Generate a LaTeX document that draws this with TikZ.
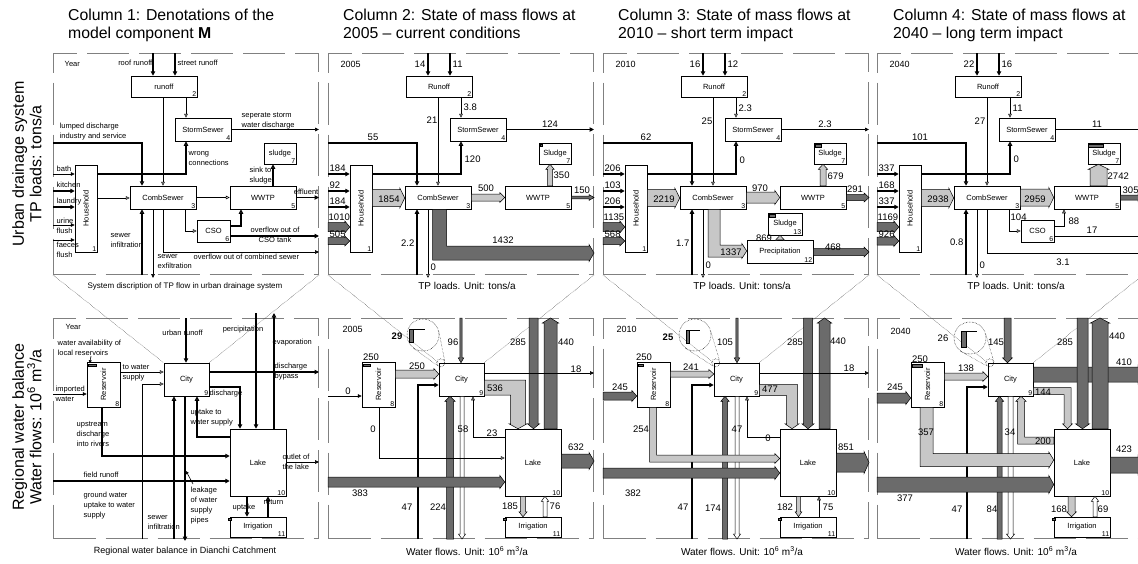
\documentclass[tikz,border=0pt]{standalone}
\usepackage{fontspec}
\setmainfont{Liberation Sans}
\usepackage{tikz}
\usetikzlibrary{arrows.meta}
\usetikzlibrary{calc}
\definecolor{lgr}{gray}{0.78}
\definecolor{dgr}{gray}{0.42}
\definecolor{frmc}{gray}{0.5}
\tikzset{
  bx/.style={draw, line width=0.5pt, fill=white, inner sep=0pt, font=\fontsize{7.5}{9}\selectfont},
  bn/.style={anchor=south east, inner sep=0.8pt, font=\fontsize{7}{8}\selectfont},
  rot/.style={rotate=90, inner sep=0pt, font=\fontsize{7.5}{9}\selectfont},
  frm/.style={draw=frmc, line width=1pt, dash pattern=on 42pt off 10pt, inner sep=0pt},
  fl/.style={line width=0.6pt, -{Triangle[length=4pt,width=3.6pt]}},
  flo/.style={line width=0.6pt, -{Triangle[open,length=4pt,width=3.6pt]}},
  fk/.style={line width=1.2pt, -{Triangle[length=4.5pt,width=4.4pt]}},
  fko/.style={line width=1.2pt, -{Triangle[open,length=4.5pt,width=4.4pt]}},
  bk/.style={draw=black, line width=0.5pt, line join=miter},
  an/.style={anchor=west, align=left, inner sep=0.5pt, font=\fontsize{7.5}{10}\selectfont},
  nm/.style={inner sep=0.5pt, font=\fontsize{9.5}{10}\selectfont},
  yr/.style={anchor=west, inner sep=0.5pt, font=\fontsize{9}{10}\selectfont},
  captxt/.style={inner sep=0pt, font=\fontsize{10}{12}\selectfont},
  ttl/.style={anchor=north west, align=left, inner sep=0pt, font=\fontsize{15.8}{18}\selectfont},
  rowl/.style={rotate=90, align=center, inner sep=0pt, font=\fontsize{16}{17.5}\selectfont},
  zl/.style={densely dotted, line width=0.4pt},
  magc/.style={draw, circle, densely dotted, line width=0.5pt, inner sep=0pt},
  stor/.style={fill=dgr, draw=black, line width=0.3pt}
}
\newcommand\compbox[7]{%
  \node[bx, minimum width=#4, minimum height=#5] (#1) at (#2,#3) {#6};
  \node[bn] at (#1.south east) {#7};}
\newcommand\hblk[4][lgr]{%
  \filldraw[bk, fill=#1] let \p1=(#2), \p2=(#3), \n1={sign(\x2-\x1)} in
  (\x1,{\y1+#4pt}) -- ({\x2-(\n1)*5pt},{\y1+#4pt}) -- ({\x2-(\n1)*5pt},{\y1+#4pt+1.6pt}) -- (\x2,\y1)
  -- ({\x2-(\n1)*5pt},{\y1-#4pt-1.6pt}) -- ({\x2-(\n1)*5pt},{\y1-#4pt}) -- (\x1,{\y1-#4pt}) -- cycle;}
\newcommand\vblk[4][lgr]{%
  \filldraw[bk, fill=#1] let \p1=(#2), \p2=(#3), \n1={sign(\y2-\y1)} in
  ({\x1-#4pt},\y1) -- ({\x1-#4pt},{\y2-(\n1)*5pt}) -- ({\x1-#4pt-1.6pt},{\y2-(\n1)*5pt}) -- (\x1,\y2)
  -- ({\x1+#4pt+1.6pt},{\y2-(\n1)*5pt}) -- ({\x1+#4pt},{\y2-(\n1)*5pt}) -- ({\x1+#4pt},\y1) -- cycle;}
\newcommand\vhblk[5][lgr]{%
  \filldraw[bk, fill=#1] let \p1=(#2), \p2=(#3), \p3=(#4), \n1={sign(\y2-\y1)}, \n2={sign(\x3-\x1)} in
  ({\x1-(\n2)*#5pt},\y1) -- ({\x1-(\n2)*#5pt},{\y2+(\n1)*#5pt}) -- ({\x3-(\n2)*5pt},{\y2+(\n1)*#5pt})
  -- ({\x3-(\n2)*5pt},{\y2+(\n1)*(#5pt+1.6pt)}) -- (\x3,\y2)
  -- ({\x3-(\n2)*5pt},{\y2-(\n1)*(#5pt+1.6pt)}) -- ({\x3-(\n2)*5pt},{\y2-(\n1)*#5pt})
  -- ({\x1+(\n2)*#5pt},{\y2-(\n1)*#5pt}) -- ({\x1+(\n2)*#5pt},\y1) -- cycle;}
\newcommand\hvblk[5][lgr]{%
  \filldraw[bk, fill=#1] let \p1=(#2), \p2=(#3), \p3=(#4), \n1={sign(\x2-\x1)}, \n2={sign(\y3-\y1)} in
  (\x1,{\y1-(\n2)*#5pt}) -- ({\x2+(\n1)*#5pt},{\y1-(\n2)*#5pt}) -- ({\x2+(\n1)*#5pt},{\y3-(\n2)*5pt})
  -- ({\x2+(\n1)*(#5pt+1.6pt)},{\y3-(\n2)*5pt}) -- (\x2,\y3)
  -- ({\x2-(\n1)*(#5pt+1.6pt)},{\y3-(\n2)*5pt}) -- ({\x2-(\n1)*#5pt},{\y3-(\n2)*5pt})
  -- ({\x2-(\n1)*#5pt},{\y1+(\n2)*#5pt}) -- (\x1,{\y1+(\n2)*#5pt}) -- cycle;}

\begin{document}
\begin{tikzpicture}[x=1pt,y=-1pt]
\useasboundingbox (0,0) rectangle (1138,563);

\node[ttl] (t1) at (68,8.5) {Column 1: Denotations of the\\model component \textbf{M}};
\node[ttl] (t2) at (343,8.5) {Column 2: State of mass flows at\\2005 -- current conditions};
\node[ttl] (t3) at (618,8.5) {Column 3: State of mass flows at\\2010 -- short term impact};
\node[ttl] (t4) at (893,8.5) {Column 4: State of mass flows at\\2040 -- long term impact};
\node[rowl] (r1) at (27,164) {Urban drainage system\\TP loads: tons/a};
\node[rowl] (r2) at (27,427) {Regional water balance\\Water flows: 10\textsuperscript{6} m\textsuperscript{3}/a};

% column 1
\begin{scope}[xshift=53pt]
\node[frm, minimum width=265, minimum height=221, anchor=north west] (tp1) at (0,53) {};
\compbox{ro1}{111}{86.5}{66}{21}{runoff}{2}
\compbox{ss1}{150}{129.5}{56}{23}{StormSewer}{4}
\compbox{hh1}{33}{208.5}{22}{87}{}{1}
\node[rot] at (hh1) {Household};
\compbox{cs1}{110}{197.5}{66}{23}{CombSewer}{3}
\compbox{ww1}{210}{197.5}{66}{23}{WWTP}{5}
\compbox{sl1}{227}{153.5}{32}{21}{sludge}{7}
\compbox{cso1}{160.5}{231}{33}{22}{CSO}{6}
\draw[fk] (tp1.north -| 100,0) -- (ro1.north -| 100,0);
\draw[fk] (tp1.north -| 122,0) -- (ro1.north -| 122,0);
\draw[flo] (ro1.south -| 110,0) -- (cs1.north -| 110,0);
\draw[flo] (ro1.south -| 133,0) -- (ss1.north -| 133,0);
\draw[fl] (ss1.east) -- (tp1.east |- ss1.east);
\draw[fko] (tp1.west |- 0,143) -| (cs1.north -| 89,0);
\draw[fl] (tp1.west |- 0,174) -- (hh1.west |- 0,174);
\draw[fk] (tp1.west |- 0,191) -- (hh1.west |- 0,191);
\draw[fk] (tp1.west |- 0,207) -- (hh1.west |- 0,207);
\draw[fl] (tp1.west |- 0,225) -- (hh1.west |- 0,225);
\draw[fl] (tp1.west |- 0,240) -- (hh1.west |- 0,240);
\draw[fko] (hh1.east |- 0,174) -| (ss1.south -| 133,0);
\draw[flo] (hh1.east |- 0,198) -- (cs1.west |- 0,198);
\draw[flo] (cs1.east) -- (ww1.west);
\draw[fk] (ww1.east) -- (tp1.east |- ww1.east);
\draw[fko] (ww1.north -| 220,0) -- (sl1.south -| 220,0);
\draw[flo] (cs1.south -| 132,0) |- (cso1.west);
\draw[fko] (cso1.east |- 0,226) -| (ww1.south -| 188,0);
\draw[fk] (cso1.east |- 0,236) -- (tp1.east |- 0,236);
\draw[fl] (cs1.south -| 110,0) |- (tp1.east |- 0,252);
\draw[fko] (tp1.south -| 89,0) -- (cs1.south -| 89,0);
\draw[fl, shorten >=-3pt] (cs1.south -| 100,0) -- (tp1.south -| 100,0);
\node[an] at (11,64) {Year};
\node[an, anchor=east] at (100,63) {roof runoff};
\node[an] at (124,63) {street runoff};
\node[an] at (188,121) {seperate storm\\water discharge};
\node[an] at (6,132) {lumped discharge\\industry and service};
\node[an] at (135,158.5) {wrong\\connections};
\node[an] at (196,175.5) {sink to\\sludge};
\node[an, anchor=east] at (266,192) {effluent};
\node[an] at (3,169) {bath};
\node[an] at (3,185) {kitchen};
\node[an] at (3,202) {laundry};
\node[an] at (3,226) {urine\\flush};
\node[an] at (3,250) {faeces\\flush};
\node[an] at (57,240.5) {sewer\\infiltration};
\node[an] at (104,262) {sewer\\exfiltration};
\node[an] at (140,257) {overflow out of combined sewer};
\node[an, align=center, anchor=center] at (222,234.5) {overflow out of\\CSO tank};
\node[inner sep=0pt, font=\fontsize{8}{9}\selectfont] at (132,286) {System discription of TP flow in urban drainage system};

\node[frm, minimum width=265, minimum height=220, anchor=north west] (bt1) at (0,318) {};
\compbox{res1}{50.5}{384.5}{33}{45}{}{8}
\node[rot] at (res1) {Reservoir};
\compbox{cty1}{133.5}{379.5}{45}{33}{City}{9}
\compbox{lk1}{205}{462.5}{56}{67}{Lake}{10}
\compbox{irr1}{205}{527}{56}{20}{Irrigation}{11}
\fill[stor] ([shift={(1,2)}]res1.north west) rectangle +(8,2.5);
\fill[stor] ([shift={(-1.5,1)}]irr1.north west) rectangle +(2.5,2.5);
\draw[zl] (tp1.south west) -- (cty1.north west);
\draw[zl] (tp1.south east) -- (cty1.north east);
\draw[fl] (bt1.west |- 0,394) -- (res1.west |- 0,394);
\draw[flo] (res1.east |- 0,372) -- (cty1.west |- 0,372);
\draw[flo] (bt1.south -| 89,0) |- (cty1.west |- 0,384);
\draw[fk] (bt1.north -| 133,0) -- (cty1.north -| 133,0);
\draw[fk] (203,313) -- (lk1.north -| 203,0);
\draw[fko] (lk1.north -| 221,0) -- (221,313);
\draw[fk] (cty1.east |- 0,372) -- (bt1.east |- 0,372);
\draw[fk] (cty1.east |- 0,387) -| (lk1.north -| 187,0);
\draw[fko] (lk1.west |- 0,437) -| (cty1.south -| 144,0);
\draw[fko] (res1.south -| 49,0) |- (lk1.west |- 0,456);
\draw[fk] (bt1.west |- 0,481) -- (lk1.west |- 0,481);
\draw[fl] (lk1.east |- 0,462) -- (bt1.east |- 0,462);
\draw[fko] (bt1.south -| 121,0) -- (cty1.south -| 121,0);
\draw[fk, shorten >=-2pt] (cty1.south -| 132,0) -- (bt1.south -| 132,0);
\draw[fko] (lk1.south -| 194,0) -- (irr1.north -| 194,0);
\draw[fko] (irr1.north -| 215,0) -- (lk1.south -| 215,0);
\draw[fl, -{Triangle[length=3pt,width=3pt]}] (38,356) -- ([shift={(3,1.5)}]res1.north west);
\draw[fl, -{Triangle[length=3pt,width=3pt]}] (140,484) -- (133,471);
\node[an] at (12,327) {Year};
\node[an] at (4,348) {water availability of\\local reservoirs};
\node[an] at (2,393.5) {imported\\water};
\node[an] at (69,373) {to water\\supply};
\node[an, anchor=center] at (129.5,333) {urban runoff};
\node[an, anchor=center] at (190,330) {percipitation};
\node[an] at (219,343) {evaporation};
\node[an] at (221,371.5) {discharge\\bypass};
\node[an] at (156,394) {discharge};
\node[an] at (137,417.5) {uptake to\\water supply};
\node[an] at (23,434) {upstream\\discharge\\into rivers};
\node[an] at (30,475) {field runoff};
\node[an] at (229,461.5) {outlet of\\the lake};
\node[an] at (30,506) {ground water\\uptake to water\\supply};
\node[an] at (94,522.5) {sewer\\infiltration};
\node[an] at (137,506) {leakage\\of water\\supply\\pipes};
\node[an] at (179,508) {uptake};
\node[an] at (210,502) {return};
\node[inner sep=0pt, font=\fontsize{9}{10}\selectfont] at (132,551) {Regional water balance in Dianchi Catchment};
\end{scope}

% column 2
\begin{scope}[xshift=328pt]
\node[frm, minimum width=265, minimum height=221, anchor=north west] (tp2) at (0,53) {};
\compbox{ro2}{111}{86.5}{66}{21}{Runoff}{2}
\compbox{ss2}{150}{129.5}{56}{23}{StormSewer}{4}
\compbox{hh2}{33}{208.5}{22}{87}{}{1}
\node[rot] at (hh2) {Household};
\compbox{cs2}{110}{197.5}{66}{23}{CombSewer}{3}
\compbox{ww2}{210}{197.5}{66}{23}{WWTP}{5}
\compbox{sl2}{227}{153.5}{32}{21}{Sludge}{7}
\fill[stor] ([shift={(1,1)}]sl2.north west) rectangle +(2.5,2.5);
\draw[fk] (tp2.north -| 100,0) -- (ro2.north -| 100,0);
\draw[fk] (tp2.north -| 122,0) -- (ro2.north -| 122,0);
\draw[flo] (ro2.south -| 110,0) -- (cs2.north -| 110,0);
\draw[flo] (ro2.south -| 133,0) -- (ss2.north -| 133,0);
\draw[fk] (ss2.east) -- (tp2.east |- ss2.east);
\draw[fko] (tp2.west |- 0,143) -| (cs2.north -| 89,0);
\draw[fk] (tp2.west |- 0,174) -- (hh2.west |- 0,174);
\draw[fk] (tp2.west |- 0,191) -- (hh2.west |- 0,191);
\draw[fk] (tp2.west |- 0,207) -- (hh2.west |- 0,207);
\hblk[dgr]{tp2.west |- 0,227}{hh2.west |- 0,227}{4.5}
\hblk[dgr]{tp2.west |- 0,241}{hh2.west |- 0,241}{3.5}
\draw[fko] (hh2.east |- 0,174) -| (ss2.south -| 133,0);
\hblk{hh2.east |- 0,198}{cs2.west |- 0,198}{8.5}
\hblk{cs2.east}{ww2.west}{3.5}
\vblk{ww2.north -| 222,0}{sl2.south -| 222,0}{2.5}
\hblk[dgr]{ww2.east}{tp2.east |- ww2.east}{1.3}
\vhblk[dgr]{cs2.south -| 111.5,0}{0,253}{tp2.east}{7}
\draw[fk] (tp2.south -| 89,0) -- (cs2.south -| 89,0);
\draw[flo, shorten >=-3pt] (cs2.south -| 100,0) -- (tp2.south -| 100,0);
\node[yr] at (12,64) {2005};
\node[nm, anchor=east] at (98,64) {14};
\node[nm, anchor=west] at (124,64) {11};
\node[nm] at (104,120) {21};
\node[nm, anchor=west] at (135,107) {3.8};
\node[nm] at (222,124) {124};
\node[nm] at (45,137) {55};
\node[nm, anchor=west] at (136,159) {120};
\node[nm, anchor=west] at (1,168) {184};
\node[nm, anchor=west] at (1,185) {92};
\node[nm, anchor=west] at (1,201) {184};
\node[nm, anchor=west] at (0,217) {1010};
\node[nm, anchor=west] at (1,234) {505};
\node[nm] at (61,199) {1854};
\node[nm] at (158,188) {500};
\node[nm, anchor=west] at (225,175) {350};
\node[nm] at (254,190) {150};
\node[nm] at (175,240) {1432};
\node[nm, anchor=east] at (87,243) {2.2};
\node[nm, anchor=west] at (102,267) {0};
\node[captxt] at (139,286) {TP loads. Unit: tons/a};

\node[frm, minimum width=265, minimum height=220, anchor=north west] (bt2) at (0,318) {};
\compbox{res2}{50.5}{384.5}{33}{45}{}{8}
\node[rot] at (res2) {Reservoir};
\compbox{cty2}{133.5}{379.5}{45}{33}{City}{9}
\compbox{lk2}{205}{462.5}{56}{67}{Lake}{10}
\compbox{irr2}{205}{527}{56}{20}{Irrigation}{11}
\fill[stor] ([shift={(1,2)}]res2.north west) rectangle +(7,2.5);
\fill[stor] ([shift={(-1.5,1)}]irr2.north west) rectangle +(2.5,2.5);
\draw[zl] (tp2.south west) -- (cty2.north west);
\draw[zl] (tp2.south east) -- (cty2.north east);
\vblk[dgr]{bt2.north -| 133,0}{cty2.north -| 133,0}{1.2}
\vblk[dgr]{bt2.north -| 205.5,0}{lk2.north -| 205.5,0}{4.5}
\vblk[dgr]{lk2.north -| 222.5,0}{bt2.north -| 222.5,0}{6.5}
\draw[fl] (cty2.east |- 0,373) -- (bt2.east |- 0,373);
\hblk{res2.east |- 0,374}{cty2.west |- 0,374}{4}
\draw[fl] (bt2.west |- 0,396) -- (res2.west |- 0,396);
\draw[fk] (bt2.south -| 90,0) |- (cty2.west |- 0,385);
\vblk[dgr]{bt2.south -| 122,0}{cty2.south -| 122,0}{3.5}
\vblk[white]{cty2.south -| 134,0}{bt2.south -| 134,0}{2}
\hvblk{cty2.east |- 0,387.5}{190,0}{lk2.north}{7.5}
\draw[flo] (lk2.west |- 0,437) -| (cty2.south -| 145,0);
\draw[flo] (res2.south -| 51,0) |- (lk2.west |- 0,458);
\hblk[dgr]{bt2.west |- 0,482}{lk2.west |- 0,482}{5}
\hblk[dgr]{lk2.east |- 0,461}{bt2.east |- 0,461}{7}
\vblk{lk2.south -| 195,0}{irr2.north -| 195,0}{2.5}
\vblk[white]{irr2.north -| 217,0}{lk2.south -| 217,0}{2}
\node[magc, minimum size=32] (mag2) at (95,335) {};
\node[magc, minimum size=8] (spot2) at ([shift={(2,0)}]cty2.north west) {};
\draw[zl] (mag2.-126) -- (spot2.-126);
\draw[zl] (mag2.12) -- (spot2.12);
\fill[stor] (81,329) rectangle (85,342);
\draw[line width=0.4pt] (85,329) -- (97,329);
\node[nm, font=\bfseries\fontsize{9.5}{10}\selectfont] at (69,336) {29};
\node[yr] at (14,329) {2005};
\node[nm] at (125,342) {96};
\node[nm] at (190,342) {285};
\node[nm] at (238,342) {440};
\node[nm] at (248,369) {18};
\node[nm] at (43,357) {250};
\node[nm] at (89,366) {250};
\node[nm] at (20,391) {0};
\node[nm] at (167,388) {536};
\node[nm] at (45,429) {0};
\node[nm] at (135,429) {58};
\node[nm] at (164,433) {23};
\node[nm] at (248,447) {632};
\node[nm] at (32,493) {383};
\node[nm] at (79,507) {47};
\node[nm] at (110,507) {224};
\node[nm] at (182,506) {185};
\node[nm] at (227,506) {76};
\node[captxt] at (139,551) {Water flows. Unit: 10\textsuperscript{6} m\textsuperscript{3}/a};
\end{scope}

% column 3
\begin{scope}[xshift=603pt]
\node[frm, minimum width=265, minimum height=221, anchor=north west] (tp3) at (0,53) {};
\compbox{ro3}{111}{86.5}{66}{21}{Runoff}{2}
\compbox{ss3}{150}{129.5}{56}{23}{StormSewer}{4}
\compbox{hh3}{33}{208.5}{22}{87}{}{1}
\node[rot] at (hh3) {Household};
\compbox{cs3}{110}{197.5}{66}{23}{CombSewer}{3}
\compbox{ww3}{210}{197.5}{66}{23}{WWTP}{5}
\compbox{sl3}{227}{153.5}{32}{21}{Sludge}{7}
\compbox{pr3}{177}{251.5}{66}{23}{Precipitation}{12}
\compbox{sx3}{182}{224}{34}{22}{Sludge}{13}
\fill[stor] ([shift={(1,1)}]sl3.north west) rectangle +(6,3);
\fill[stor] ([shift={(1,1)}]sx3.north west) rectangle +(6,3);
\draw[fk] (tp3.north -| 100,0) -- (ro3.north -| 100,0);
\draw[fk] (tp3.north -| 122,0) -- (ro3.north -| 122,0);
\draw[flo] (ro3.south -| 110,0) -- (cs3.north -| 110,0);
\draw[flo] (ro3.south -| 133,0) -- (ss3.north -| 133,0);
\draw[fl] (ss3.east) -- (tp3.east |- ss3.east);
\draw[fko] (tp3.west |- 0,143) -| (cs3.north -| 89,0);
\draw[fk] (tp3.west |- 0,174) -- (hh3.west |- 0,174);
\draw[fk] (tp3.west |- 0,191) -- (hh3.west |- 0,191);
\draw[fk] (tp3.west |- 0,207) -- (hh3.west |- 0,207);
\hblk[dgr]{tp3.west |- 0,227}{hh3.west |- 0,227}{4.5}
\hblk[dgr]{tp3.west |- 0,241}{hh3.west |- 0,241}{3.5}
\draw[fko] (hh3.east |- 0,174) -| (ss3.south -| 133,0);
\hblk{hh3.east |- 0,198}{cs3.west |- 0,198}{8.5}
\hblk{cs3.east}{ww3.west}{5.5}
\vblk{ww3.north -| 220,0}{sl3.south -| 220,0}{3}
\hblk[dgr]{ww3.east}{tp3.east |- ww3.east}{3}
\vhblk{cs3.south -| 111,0}{0,251}{pr3.west}{6}
\vblk{pr3.north -| 177,0}{sx3.south -| 177,0}{3}
\hblk[dgr]{pr3.east |- 0,252}{tp3.east |- 0,252}{3.5}
\draw[fk] (tp3.south -| 89,0) -- (cs3.south -| 89,0);
\draw[flo, shorten >=-3pt] (cs3.south -| 100,0) -- (tp3.south -| 100,0);
\node[yr] at (12,64) {2010};
\node[nm, anchor=east] at (98,64) {16};
\node[nm, anchor=west] at (124,64) {12};
\node[nm] at (104,121) {25};
\node[nm, anchor=west] at (135,108) {2.3};
\node[nm] at (222,124) {2.3};
\node[nm] at (43,137) {62};
\node[nm, anchor=west] at (136,160) {0};
\node[nm, anchor=west] at (1,168) {206};
\node[nm, anchor=west] at (1,185) {103};
\node[nm, anchor=west] at (1,201) {206};
\node[nm, anchor=west] at (0,217) {1135};
\node[nm, anchor=west] at (1,234) {568};
\node[nm] at (61,199) {2219};
\node[nm] at (157,188) {970};
\node[nm, anchor=west] at (224,176) {679};
\node[nm] at (252,189) {291};
\node[nm] at (128,252) {1337};
\node[nm] at (161,238) {869};
\node[nm] at (230,247) {468};
\node[nm, anchor=east] at (87,243) {1.7};
\node[nm, anchor=west] at (102,265) {0};
\node[captxt] at (139,286) {TP loads. Unit: tons/a};

\node[frm, minimum width=265, minimum height=220, anchor=north west] (bt3) at (0,318) {};
\compbox{res3}{50.5}{384.5}{33}{45}{}{8}
\node[rot] at (res3) {Reservoir};
\compbox{cty3}{133.5}{379.5}{45}{33}{City}{9}
\compbox{lk3}{205}{462.5}{56}{67}{Lake}{10}
\compbox{irr3}{205}{527}{56}{20}{Irrigation}{11}
\fill[stor] ([shift={(1,2)}]res3.north west) rectangle +(5,2.5);
\fill[stor] ([shift={(-1.5,1)}]irr3.north west) rectangle +(2.5,2.5);
\draw[zl] (tp3.south west) -- (cty3.north west);
\draw[zl] (tp3.south east) -- (cty3.north east);
\vblk[dgr]{bt3.north -| 134,0}{cty3.north -| 134,0}{1.2}
\vblk[dgr]{bt3.north -| 205,0}{lk3.north -| 205,0}{4.5}
\vblk[dgr]{lk3.north -| 221.5,0}{bt3.north -| 221.5,0}{5.5}
\draw[fl] (cty3.east |- 0,373) -- (bt3.east |- 0,373);
\hblk{res3.east |- 0,374}{cty3.west |- 0,374}{3}
\hblk[dgr]{bt3.west |- 0,396}{res3.west |- 0,396}{4}
\draw[fk] (bt3.south -| 89,0) |- (cty3.west |- 0,385);
\vblk[dgr]{bt3.south -| 122,0}{cty3.south -| 122,0}{2.5}
\vblk[white]{cty3.south -| 134,0}{bt3.south -| 134,0}{2}
\hvblk{cty3.east |- 0,390}{189,0}{lk3.north}{5.5}
\draw[flo] (lk3.west |- 0,437) -| (cty3.south -| 144,0);
\vhblk{res3.south -| 50,0}{0,458.5}{lk3.west}{3.5}
\hblk[dgr]{bt3.west |- 0,473}{lk3.west |- 0,473}{5}
\hblk[dgr]{lk3.east |- 0,462.5}{bt3.east |- 0,462.5}{9.5}
\vblk{lk3.south -| 195.5,0}{irr3.north -| 195.5,0}{1.8}
\draw[flo] (irr3.north -| 216,0) -- (lk3.south -| 216,0);
\node[magc, minimum size=32] (mag3) at (92,335) {};
\node[magc, minimum size=8] (spot3) at ([shift={(2,0)}]cty3.north west) {};
\draw[zl] (mag3.-126) -- (spot3.-126);
\draw[zl] (mag3.12) -- (spot3.12);
\fill[stor] (83,330) rectangle (86,343);
\draw[line width=0.4pt] (86,330) -- (97,330);
\node[nm, font=\bfseries\fontsize{9.5}{10}\selectfont] at (65,337) {25};
\node[yr] at (13,329) {2010};
\node[nm] at (122,342) {105};
\node[nm] at (192,342) {285};
\node[nm] at (235,341) {440};
\node[nm] at (246,368) {18};
\node[nm] at (41,357) {250};
\node[nm] at (88,367) {241};
\node[nm] at (17,387) {245};
\node[nm] at (167,389) {477};
\node[nm] at (134,429) {47};
\node[nm] at (165,438) {0};
\node[nm] at (38,429) {254};
\node[nm] at (243,447) {851};
\node[nm] at (30,493) {382};
\node[nm] at (80,507) {47};
\node[nm] at (110,508) {174};
\node[nm] at (182,507) {182};
\node[nm] at (225,507) {75};
\node[captxt] at (139,551) {Water flows. Unit: 10\textsuperscript{6} m\textsuperscript{3}/a};
\end{scope}

% column 4
\begin{scope}[xshift=877pt]
\node[frm, minimum width=265, minimum height=221, anchor=north west] (tp4) at (0,53) {};
\compbox{ro4}{111}{86.5}{66}{21}{Runoff}{2}
\compbox{ss4}{150}{129.5}{56}{23}{StormSewer}{4}
\compbox{hh4}{33}{208.5}{22}{87}{}{1}
\node[rot] at (hh4) {Household};
\compbox{cs4}{110}{197.5}{66}{23}{CombSewer}{3}
\compbox{ww4}{210}{197.5}{66}{23}{WWTP}{5}
\compbox{sl4}{227}{153.5}{32}{21}{Sludge}{7}
\compbox{cso4}{160.5}{231}{33}{22}{CSO}{6}
\fill[stor] ([shift={(0,1)}]sl4.north west) rectangle +(15,3);
\draw[fk] (tp4.north -| 100,0) -- (ro4.north -| 100,0);
\draw[fk] (tp4.north -| 122,0) -- (ro4.north -| 122,0);
\draw[flo] (ro4.south -| 110,0) -- (cs4.north -| 110,0);
\draw[flo] (ro4.south -| 133,0) -- (ss4.north -| 133,0);
\draw[fl] (ss4.east) -- (tp4.east |- ss4.east);
\draw[fko] (tp4.west |- 0,143) -| (cs4.north -| 89,0);
\draw[fk] (tp4.west |- 0,174) -- (hh4.west |- 0,174);
\draw[fk] (tp4.west |- 0,191) -- (hh4.west |- 0,191);
\draw[fk] (tp4.west |- 0,207) -- (hh4.west |- 0,207);
\hblk[dgr]{tp4.west |- 0,227}{hh4.west |- 0,227}{4.5}
\hblk[dgr]{tp4.west |- 0,241}{hh4.west |- 0,241}{4}
\draw[fko] (hh4.east |- 0,174) -| (ss4.south -| 133,0);
\hblk{hh4.east |- 0,198}{cs4.west |- 0,198}{8.5}
\hblk{cs4.east}{ww4.west}{8.5}
\vblk{ww4.north -| 221.5,0}{sl4.south -| 221.5,0}{8.5}
\hblk[dgr]{ww4.east}{tp4.east |- ww4.east}{2.5}
\draw[flo] (cs4.south -| 132,0) |- (cso4.west);
\draw[flo] (cso4.east |- 0,226) -| (ww4.south -| 187,0);
\draw[fl] (cso4.east |- 0,236) -- (tp4.east |- 0,236);
\draw[fl] (cs4.south -| 110,0) |- (tp4.east |- 0,253);
\draw[fk] (tp4.south -| 89,0) -- (cs4.south -| 89,0);
\draw[flo, shorten >=-3pt] (cs4.south -| 100,0) -- (tp4.south -| 100,0);
\node[yr] at (12,64) {2040};
\node[nm, anchor=east] at (98,64) {22};
\node[nm, anchor=west] at (124,64) {16};
\node[nm] at (103,121) {27};
\node[nm, anchor=west] at (135,108) {11};
\node[nm] at (220,124) {11};
\node[nm] at (43,137) {101};
\node[nm, anchor=west] at (136,159) {0};
\node[nm, anchor=west] at (1,168) {337};
\node[nm, anchor=west] at (1,185) {168};
\node[nm, anchor=west] at (1,201) {337};
\node[nm, anchor=west] at (0,217) {1169};
\node[nm, anchor=west] at (1,234) {926};
\node[nm] at (61,199) {2938};
\node[nm] at (158,199) {2959};
\node[nm, anchor=west] at (230,176) {2742};
\node[nm, anchor=west] at (245,190) {305};
\node[nm, anchor=west] at (133,217) {104};
\node[nm, anchor=west] at (191,221) {88};
\node[nm] at (215,230) {17};
\node[nm] at (186,262) {3.1};
\node[nm, anchor=east] at (87,242) {0.8};
\node[nm, anchor=west] at (102,265) {0};
\node[captxt] at (139,286) {TP loads. Unit: tons/a};

\node[frm, minimum width=265, minimum height=220, anchor=north west] (bt4) at (0,318) {};
\compbox{res4}{50.5}{384.5}{33}{45}{}{8}
\node[rot] at (res4) {Reservoir};
\compbox{cty4}{133.5}{379.5}{45}{33}{City}{9}
\compbox{lk4}{205}{462.5}{56}{67}{Lake}{10}
\compbox{irr4}{205}{527}{56}{20}{Irrigation}{11}
\fill[stor] ([shift={(1,2)}]res4.north west) rectangle +(10,3);
\fill[stor] ([shift={(-1.5,1)}]irr4.north west) rectangle +(2.5,2.5);
\draw[zl] (tp4.south west) -- (cty4.north west);
\draw[zl] (tp4.south east) -- (cty4.north east);
\hblk[dgr]{cty4.east |- 0,374.5}{bt4.east |- 0,374.5}{7.5}
\vblk[dgr]{bt4.north -| 130.5,0}{cty4.north -| 130.5,0}{3.5}
\vblk[dgr]{bt4.north -| 205.5,0}{lk4.north -| 205.5,0}{5.5}
\vblk[dgr]{lk4.north -| 223,0}{bt4.north -| 223,0}{8}
\hblk{res4.east |- 0,376.5}{cty4.west |- 0,376.5}{3.5}
\hblk[dgr]{bt4.west |- 0,398}{res4.west |- 0,398}{5}
\draw[fk] (bt4.south -| 90,0) |- (cty4.west |- 0,387);
\vblk[dgr]{bt4.south -| 122.5,0}{cty4.south -| 122.5,0}{2.5}
\vblk[white]{cty4.south -| 133.5,0}{bt4.south -| 133.5,0}{2.5}
\hvblk{cty4.east |- 0,391}{190.5,0}{lk4.north}{3.5}
\hvblk{lk4.west |- 0,440.5}{144,0}{cty4.south}{3.5}
\vhblk{res4.south -| 49.5,0}{0,460}{lk4.west}{6.5}
\hblk[dgr]{bt4.west |- 0,484.5}{lk4.west |- 0,484.5}{7.5}
\hblk[dgr]{lk4.east |- 0,465}{bt4.east |- 0,465}{8}
\vblk{lk4.south -| 194.5,0}{irr4.north -| 194.5,0}{3.5}
\vblk[white]{irr4.north -| 218,0}{lk4.south -| 218,0}{2}
\node[magc, minimum size=32] (mag4) at (93,338) {};
\node[magc, minimum size=8] (spot4) at ([shift={(2,0)}]cty4.north west) {};
\draw[zl] (mag4.-126) -- (spot4.-126);
\draw[zl] (mag4.12) -- (spot4.12);
\fill[stor] (84,331) rectangle (89,347);
\draw[line width=0.4pt] (89,331) -- (100,331);
\node[nm] at (66,338) {26};
\node[yr] at (13,331) {2040};
\node[nm] at (119,342) {145};
\node[nm] at (188,342) {285};
\node[nm] at (240,336) {440};
\node[nm] at (247,362) {410};
\node[nm] at (43,359) {250};
\node[nm] at (89,368) {138};
\node[nm] at (18,387) {245};
\node[nm] at (166,392) {144};
\node[nm] at (133,432) {34};
\node[nm] at (166,441) {200};
\node[nm] at (49,432) {357};
\node[nm] at (247,449) {423};
\node[nm] at (28,498) {377};
\node[nm] at (80,509) {47};
\node[nm] at (115,509) {84};
\node[nm] at (182,509) {168};
\node[nm] at (226,509) {69};
\node[captxt] at (139,551) {Water flows. Unit: 10\textsuperscript{6} m\textsuperscript{3}/a};
\end{scope}
\end{tikzpicture}
\end{document}
